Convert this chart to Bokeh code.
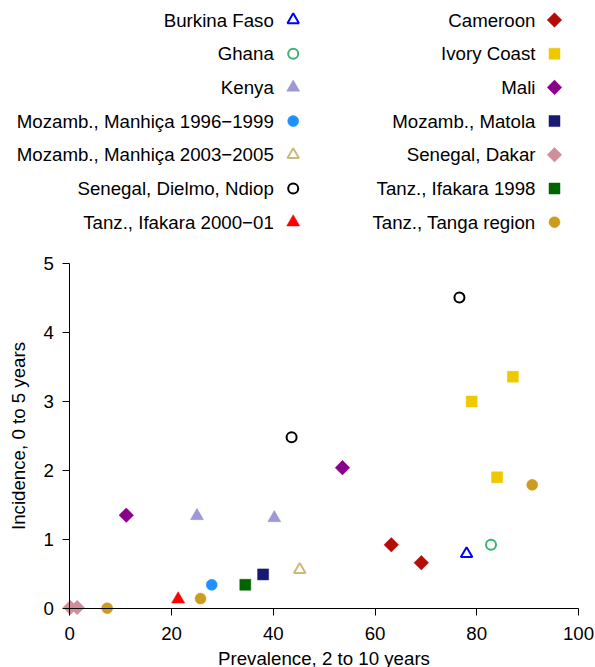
import numpy as np
from bokeh.plotting import figure
from bokeh.models import Range1d, FixedTicker, LinearAxis
from bokeh.core.properties import value
from bokeh.embed import file_html
from bokeh.resources import INLINE

# ---------------- data ----------------
burkina_x = [78.0];             burkina_y = [0.79]
ghana_x = [82.8];               ghana_y = [0.92]
kenya_x = [25.0, 40.2];         kenya_y = [1.34, 1.31]
manhica96_x = [27.9];           manhica96_y = [0.34]
manhica03_x = [45.2];           manhica03_y = [0.56]
dielmo_x = [43.6, 76.6];        dielmo_y = [2.48, 4.51]
ifakara00_x = [21.3];           ifakara00_y = [0.13]
cameroon_x = [63.2, 69.1];      cameroon_y = [0.92, 0.66]
ivory_x = [79.0, 84.0, 87.1];   ivory_y = [3.00, 1.90, 3.36]
mali_x = [11.1, 53.6];          mali_y = [1.35, 2.04]
matola_x = [38.0];              matola_y = [0.49]
dakar_x = [0.1, 1.45];          dakar_y = [0.01, 0.01]
ifakara98_x = [34.5];           ifakara98_y = [0.34]
tanga_x = [7.35, 25.7, 90.9];   tanga_y = [0.0, 0.14, 1.79]

x_ticks = [0, 20, 40, 60, 80, 100]
y_ticks = [0, 1, 2, 3, 4, 5]
x_title = "Prevalence, 2 to 10 years"
y_title = "Incidence, 0 to 5 years"

left_labels = ["Burkina Faso", "Ghana", "Kenya",
               "Mozamb., Manhi\u00e7a 1996\u22121999",
               "Mozamb., Manhi\u00e7a 2003\u22122005",
               "Senegal, Dielmo, Ndiop",
               "Tanz., Ifakara 2000\u221201"]
right_labels = ["Cameroon", "Ivory Coast", "Mali", "Mozamb., Matola",
                "Senegal, Dakar", "Tanz., Ifakara 1998", "Tanz., Tanga region"]

left_data = [(burkina_x, burkina_y), (ghana_x, ghana_y), (kenya_x, kenya_y),
             (manhica96_x, manhica96_y), (manhica03_x, manhica03_y),
             (dielmo_x, dielmo_y), (ifakara00_x, ifakara00_y)]
right_data = [(cameroon_x, cameroon_y), (ivory_x, ivory_y), (mali_x, mali_y),
              (matola_x, matola_y), (dakar_x, dakar_y), (ifakara98_x, ifakara98_y),
              (tanga_x, tanga_y)]

# ---------------- styles ----------------
D = np.pi / 4
def st(marker, color, size, filled=True, angle=0.0):
    return dict(marker=marker, color=color, size=size, filled=filled, angle=angle)

left_styles = [
    st("triangle", "#0000ff", 11.5, False),
    st("circle", "#3cb371", 10, False),
    st("triangle", "#9e97d8", 13),
    st("circle", "#1e90ff", 11),
    st("triangle", "#c9bb7a", 11.5, False),
    st("circle", "#000000", 10, False),
    st("triangle", "#ff0000", 13),
]
right_styles = [
    st("square", "#b40b0b", 10.3, True, D),
    st("square", "#eec900", 11),
    st("square", "#8b008b", 10.3, True, D),
    st("square", "#191970", 11),
    st("square", "#d08e9a", 10.3, True, D),
    st("square", "#006400", 11),
    st("circle", "#cd9b1d", 11),
]

FONT = "Liberation Sans"
FS = "18.7px"
W, H = 595, 667
X0_PX, KX = 69.3, 5.087     # pixel of x=0 and px per unit
Y0_PX, KY = 607.7, 68.9     # pixel (from top) of y=0 and px per unit

# the frame fills the whole canvas; axes sit at the data origin
x_start = -X0_PX / KX
x_end = (W - X0_PX) / KX
y_end = Y0_PX / KY
y_start = -(H - Y0_PX) / KY

def px_x(px):
    return (px - X0_PX) / KX

def px_y(py):
    return (Y0_PX - py) / KY

p = figure(width=W, height=H, output_backend="svg", toolbar_location=None,
           x_range=Range1d(x_start, x_end), y_range=Range1d(y_start, y_end),
           x_axis_location=None, y_axis_location=None,
           min_border_left=0, min_border_right=0, min_border_top=0, min_border_bottom=0)
p.outline_line_color = None
p.grid.visible = False
p.background_fill_color = "white"
p.border_fill_color = "white"

def draw(xs, ys, s):
    kw = dict(marker=s["marker"], size=s["size"], angle=s["angle"])
    if s["filled"]:
        p.scatter(xs, ys, fill_color=s["color"], line_color=s["color"], line_width=0.5, **kw)
    else:
        p.scatter(xs, ys, fill_color=None, line_color=s["color"], line_width=2, **kw)

for (xs, ys), s in zip(left_data + right_data, left_styles + right_styles):
    draw(xs, ys, s)

# ---------------- legend (two columns, label then marker) ----------------
ROW0, ROWSTEP = 19.5, 33.7
cols = [(left_labels, left_styles, 273.3, 292.7),
        (right_labels, right_styles, 535.0, 554.0)]
for labels, styles, text_right_px, marker_px in cols:
    ys = [px_y(ROW0 + i * ROWSTEP) for i in range(len(labels))]
    p.text(x=[px_x(text_right_px)] * len(labels), y=ys, text=labels,
           text_align="right", text_baseline="middle",
           text_font=value(FONT), text_font_size=value(FS), text_color="black")
    for yv, s in zip(ys, styles):
        draw([px_x(marker_px)], [yv], s)

# ---------------- axes at the data origin ----------------
axes = {}
for side, ticks, bounds in (("below", x_ticks, (0, 100)), ("left", y_ticks, (0, 5))):
    ax = LinearAxis(ticker=FixedTicker(ticks=ticks), bounds=bounds, fixed_location=0)
    ax.minor_tick_line_color = None
    ax.major_tick_in = 0
    ax.major_tick_out = 7
    ax.axis_line_color = "black"
    ax.major_tick_line_color = "black"
    ax.major_label_text_font = FONT
    ax.major_label_text_font_size = FS
    ax.major_label_text_color = "black"
    ax.axis_label_text_font = FONT
    ax.axis_label_text_font_size = FS
    ax.axis_label_text_font_style = "normal"
    ax.axis_label_text_color = "black"
    p.add_layout(ax, side)
    axes[side] = ax

axes["below"].axis_label = x_title
axes["below"].major_label_standoff = 12
axes["below"].axis_label_standoff = 4
axes["left"].axis_label = y_title
axes["left"].major_label_standoff = 9
axes["left"].axis_label_standoff = 11

open("out.html", "w").write(file_html(p, INLINE))
